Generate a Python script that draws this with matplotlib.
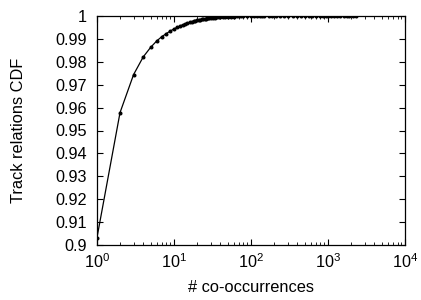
import matplotlib
matplotlib.use("Agg")
import matplotlib.pyplot as plt
from matplotlib.ticker import LogLocator, MultipleLocator

plt.rcParams['font.family'] = ['Liberation Sans', 'DejaVu Sans']
plt.rcParams['mathtext.fontset'] = 'custom'
plt.rcParams['mathtext.rm'] = 'Liberation Sans'
plt.rcParams['mathtext.default'] = 'regular'

# co-occurrence counts and the CDF
counts = [1, 2, 3, 4, 5, 6, 7, 8, 9, 10,
          11, 12, 13, 14, 15, 16, 17, 18, 19, 20,
          21, 22, 23, 24, 25, 26, 27, 28, 29, 30,
          32, 34, 36, 38, 40, 43, 46, 50, 55, 60,
          65, 70, 75, 80, 90, 100, 110, 120, 130, 140,
          150, 170, 190, 210, 240, 270, 300, 350, 400, 450,
          500, 560, 620, 700, 780, 850, 950, 1000, 1100, 1200,
          1300, 1450, 1600, 1750, 1900, 2100, 2300]
cdf = [0.9029, 0.9578, 0.9744, 0.9821, 0.9863, 0.9891, 0.9910, 0.9923, 0.9934, 0.9943,
       0.9950, 0.9956, 0.9961, 0.9965, 0.9969, 0.9972, 0.9975, 0.9977, 0.9979, 0.9981,
       0.99825, 0.9984, 0.99852, 0.99863, 0.99873, 0.99882, 0.9989, 0.99897, 0.99903, 0.99909,
       0.99918, 0.99926, 0.99933, 0.99938, 0.99943, 0.9995, 0.99955, 0.99961, 0.99966, 0.9997,
       0.99974, 0.99977, 0.99979, 0.99981, 0.99984, 0.99987, 0.99989, 0.9999, 0.99991, 0.99992,
       0.99993, 0.99994, 0.99995, 0.99996, 0.99997, 0.99997, 0.99998, 0.99998, 0.99998, 0.99999,
       0.99999, 0.99999, 0.99999, 0.999995, 0.999995, 0.999996, 0.999997, 0.999997, 0.999998, 0.999998,
       0.999998, 0.999999, 0.999999, 0.999999, 0.999999, 1.0, 1.0]

fig = plt.figure(figsize=(4.21, 3.0), dpi=100)
ax = fig.add_axes([0.230, 0.183, 0.732, 0.764])

ax.plot(counts, cdf, color='black', lw=0.9, marker='o', ms=1.9)

ax.set_xscale('log')
ax.set_xlim(1, 1e4)
ax.set_ylim(0.9, 1.0)
ax.xaxis.set_major_locator(LogLocator(base=10, numticks=10))
ax.xaxis.set_minor_locator(LogLocator(base=10, subs=range(2, 10), numticks=20))
ax.yaxis.set_major_locator(MultipleLocator(0.01))
ax.yaxis.set_major_formatter(plt.FuncFormatter(lambda v, p: ('%.2f' % v).rstrip('0').rstrip('.')))

ax.tick_params(which='both', direction='in', top=True, right=True, labelsize=11.7)
ax.tick_params(axis='y', pad=7)
ax.tick_params(axis='x', pad=5)
ax.tick_params(which='major', length=4, width=0.8)
ax.tick_params(which='minor', length=2, width=0.6)
for s in ax.spines.values():
    s.set_linewidth(0.9)

ax.set_xlabel('# co-occurrences', fontsize=11.8, va='center')
ax.set_ylabel('Track relations CDF', fontsize=11.8, va='center')
ax.xaxis.set_label_coords(0.5, -0.183)
ax.yaxis.set_label_coords(-0.253, 0.5)

fig.savefig('out.png', dpi=100)
